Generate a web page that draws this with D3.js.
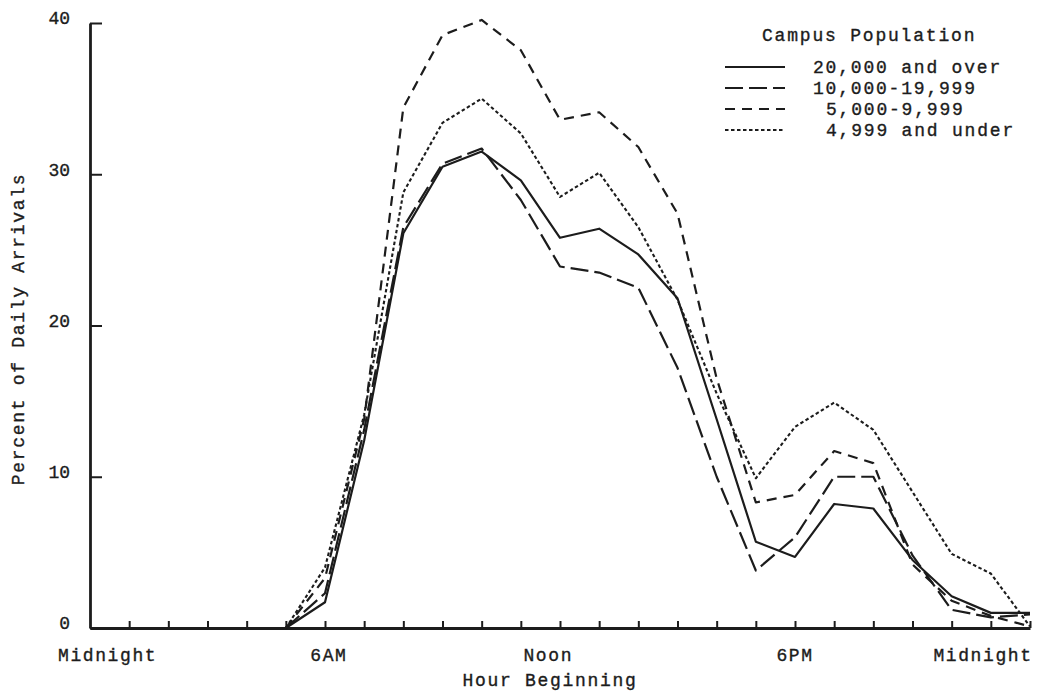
<!DOCTYPE html>
<html>
<head>
<meta charset="utf-8">
<script src="https://cdn.jsdelivr.net/npm/d3@7/dist/d3.min.js"></script>
<style>
  html, body { margin: 0; padding: 0; background: #fff; }
  svg { display: block; }
  text { font-family: "Liberation Mono", "DejaVu Sans Mono", monospace; fill: #1c1c1c; stroke: #1c1c1c; stroke-width: 0.35px; }
</style>
</head>
<body>
<svg id="chart" width="1038" height="693"></svg>
<script>
// Hour beginning (5 AM through the following midnight)
const hours = [5, 6, 7, 8, 9, 10, 11, 12, 13, 14, 15, 16, 17, 18, 19, 20, 21, 22, 23, 24];

// Percent of daily arrivals, by campus population
const over20000   = [0, 1.7, 12.4, 26.1, 30.5, 31.5, 29.6, 25.8, 26.4, 24.7, 21.8, 13.8, 5.7, 4.7, 8.2, 7.9, 4.5, 2.1, 1.0, 1.0];
const from10000   = [0, 2.3, 13.1, 26.5, 30.7, 31.7, 28.3, 23.9, 23.5, 22.5, 17.2, 10.0, 3.8, 6.0, 10.0, 10.0, 4.8, 1.2, 0.7, 0.9];
const from5000    = [0, 3.3, 13.8, 34.4, 39.2, 40.2, 38.2, 33.6, 34.1, 31.8, 27.4, 16.5, 8.3, 8.8, 11.7, 10.9, 4.2, 1.8, 0.8, 0.1];
const under5000   = [0, 4.0, 14.1, 28.8, 33.4, 35.0, 32.7, 28.5, 30.1, 26.5, 21.7, 15.5, 9.9, 13.3, 14.9, 13.1, 9.0, 4.9, 3.6, 0.1];

const seriesNames = ["20,000 and over", "10,000-19,999", "5,000-9,999", "4,999 and under"];

// Axis labels
const yTicks = [0, 10, 20, 30, 40];
const xTickHours = d3.range(1, 25);
const xLabels = ["Midnight", "6AM", "Noon", "6PM", "Midnight"];
const xLabelHours = [0.45, 6.1, 11.7, 18.0, 22.8];

const svg = d3.select("#chart");
const ink = "#1c1c1c";

const x = d3.scaleLinear().domain([0, 24]).range([90, 1030]);
const y = d3.scaleLinear().domain([0, 40]).range([628, 23]);

// Line dash patterns for each population group
const dashes = [null, "18,6", "10,7", "3.5,2.5"];
const widths = [2.2, 2.2, 2.2, 2.1];
const legendIndent = [0, 0, 13, 13];

const series = [over20000, from10000, from5000, under5000];

// Axes
const xAxis = d3.axisBottom(x)
  .tickValues(xTickHours)
  .tickSizeInner(-7)
  .tickSizeOuter(0)
  .tickFormat("");
const gx = svg.append("g").attr("transform", `translate(0,${y(0)})`).call(xAxis);

const yAxis = d3.axisLeft(y)
  .tickValues(yTicks)
  .tickSizeInner(-12)
  .tickSizeOuter(0)
  .tickPadding(20)
  .tickFormat(d3.format("d"));
const gy = svg.append("g").attr("transform", `translate(${x(0)},0)`).call(yAxis);

[gx, gy].forEach(g => {
  g.select(".domain").attr("stroke", ink).attr("stroke-width", 2.8);
  g.selectAll(".tick line").attr("stroke", ink).attr("stroke-width", 2);
});
gy.selectAll(".tick text")
  .attr("font-size", 18)
  .attr("font-family", "Liberation Mono, monospace")
  .attr("fill", ink)
  .attr("dy", "0.05em");

// Hour labels
svg.append("g").selectAll("text")
  .data(xLabels)
  .join("text")
  .attr("x", (d, i) => x(xLabelHours[i]))
  .attr("y", 661)
  .attr("text-anchor", "middle")
  .attr("font-size", 18)
  .attr("letter-spacing", 1.6)
  .text(d => d);

// Axis titles
svg.append("text")
  .attr("x", 550).attr("y", 686)
  .attr("text-anchor", "middle")
  .attr("font-size", 18)
  .attr("letter-spacing", 1.7)
  .text("Hour Beginning");

svg.append("text")
  .attr("transform", "translate(24,329) rotate(-90)")
  .attr("text-anchor", "middle")
  .attr("font-size", 18)
  .attr("letter-spacing", 1.7)
  .text("Percent of Daily Arrivals");

// Data lines
const line = d3.line()
  .x((d, i) => x(hours[i]))
  .y(d => y(d));

svg.append("g").selectAll("path")
  .data(series)
  .join("path")
  .attr("d", d => line(d))
  .attr("fill", "none")
  .attr("stroke", ink)
  .attr("stroke-width", (d, i) => widths[i])
  .attr("stroke-dasharray", (d, i) => dashes[i])
  .attr("stroke-linejoin", "round");

// Legend
const legend = svg.append("g");
legend.append("text")
  .attr("x", 762).attr("y", 41)
  .attr("font-size", 18)
  .attr("letter-spacing", 1.8)
  .text("Campus Population");

const rows = legend.selectAll("g.row")
  .data(seriesNames)
  .join("g")
  .attr("class", "row")
  .attr("transform", (d, i) => `translate(0,${67 + i * 21})`);

rows.append("line")
  .attr("x1", 725).attr("x2", 785)
  .attr("y1", 0).attr("y2", 0)
  .attr("stroke", ink)
  .attr("stroke-width", (d, i) => widths[i])
  .attr("stroke-dasharray", (d, i) => dashes[i]);

rows.append("text")
  .attr("x", (d, i) => 813 + legendIndent[i])
  .attr("y", 6)
  .attr("font-size", 18)
  .attr("letter-spacing", 1.8)
  .text(d => d);
</script>
</body>
</html>
